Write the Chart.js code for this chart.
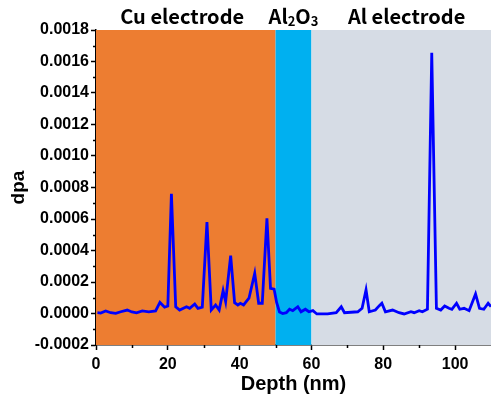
<!DOCTYPE html>
<html>
<head>
<meta charset="utf-8">
<script src="https://cdn.jsdelivr.net/npm/chart.js"></script>
<style>
  html, body { margin: 0; padding: 0; background: #fff; }
  #wrap { width: 491px; height: 396px; position: relative; }
</style>
</head>
<body>
<div id="wrap"><canvas id="dpaChart"></canvas></div>
<script>
// depth (nm) and dpa
const depth = [0.4, 1.3, 2.7, 4.1, 5.5, 6.9, 8.7, 10.0, 11.3, 12.9, 14.7, 16.6, 17.8, 19.1, 20.0,
  21.0, 22.2, 23.3, 25.2, 26.1, 27.5, 28.4, 29.6, 30.9, 32.1, 33.3, 34.3, 35.4, 36.1, 37.5,
  38.6, 39.5, 40.2, 41.1, 42.6, 44.2, 45.3, 46.3, 47.6, 48.6, 49.6, 50.3, 51.1, 52.0, 53.0,
  53.9, 54.8, 56.2, 57.1, 58.3, 59.3, 60.4, 61.5, 64.5, 66.9, 68.3, 69.2, 72.9, 74.1, 75.2,
  76.1, 77.8, 78.9, 79.6, 80.6, 82.6, 84.4, 85.8, 87.7, 88.6, 90.0, 90.9, 92.3, 93.5, 94.8,
  96.0, 97.1, 98.3, 99.1, 100.4, 101.3, 102.5, 103.9, 105.7, 106.8, 108.0, 109.2, 110.0];
const dpa = [0.000005, 0.000003, 0.000016, 0.000005, 0.000001, 0.000011, 0.000022, 0.00001, 0.000004, 0.000016, 0.000011, 0.000016, 0.00007, 0.00004, 0.000048,
  0.00076, 0.000043, 0.000022, 0.000043, 0.000033, 0.00006, 0.000033, 0.00004, 0.00058, 0.000022, 0.000054, 0.000022, 0.000145, 0.000075, 0.000367,
  0.000069, 0.000054, 0.000065, 0.000054, 0.000097, 0.000255, 0.000065, 0.000065, 0.000605, 0.00016, 0.000155, 0.00007, 0.00001, 0.0, 0.000005,
  0.000027, 0.000018, 0.000043, 0.000011, 0.000027, 0.000011, 0.000018, -0.000003, -0.000003, 0.000005, 0.000043, 0.000005, 0.000011, 0.000033, 0.00015,
  0.000011, 0.000022, 0.00005, 0.000065, 0.000011, 0.000022, 0.000005, -0.000003, 0.000011, 0.000005, 0.000018, 0.000011, 0.000027, 0.001656, 0.000033,
  0.000022, 0.000048, 0.000033, 0.000027, 0.000065, 0.000027, 0.000033, 0.000018, 0.000124, 0.000033, 0.000027, 0.000065, 0.000043];

// layer regions along depth
const regionNames = ['Cu electrode', 'Al2O3', 'Al electrode'];
const regionStart = [0, 50, 60];
const regionEnd = [50, 60, 110];
const regionLabelAt = [24, 55, 86.5];
const regionColors = ['#ED7D31', '#00B0F0', '#D6DCE5'];

const xMin = 0, xMax = 110;
const yMin = -0.0002, yMax = 0.0018;

const tickFont = { family: 'Liberation Sans, Arial, sans-serif', size: 16, weight: 'bold' };

const layers = {
  id: 'layers',
  beforeDatasetsDraw(chart) {
    const { ctx, chartArea, scales } = chart;
    ctx.save();
    regionStart.forEach((s, i) => {
      const x0 = scales.x.getPixelForValue(s);
      const x1 = Math.min(scales.x.getPixelForValue(regionEnd[i]), chartArea.right);
      ctx.fillStyle = regionColors[i];
      ctx.fillRect(x0, chartArea.top, x1 - x0, chartArea.bottom - chartArea.top);
    });
    ctx.restore();
  },
  afterDraw(chart) {
    const { ctx, chartArea, scales } = chart;
    ctx.save();
    // minor ticks
    ctx.strokeStyle = '#000';
    ctx.lineWidth = 1.5;
    ctx.beginPath();
    for (let v = yMin + 0.0001; v < yMax; v += 0.0002) {
      const py = Math.round(scales.y.getPixelForValue(v)) + 0.5;
      ctx.moveTo(chartArea.left - 3, py);
      ctx.lineTo(chartArea.left, py);
    }
    for (let v = 10; v < xMax; v += 20) {
      const px = Math.round(scales.x.getPixelForValue(v)) + 0.5;
      ctx.moveTo(px, chartArea.bottom);
      ctx.lineTo(px, chartArea.bottom + 3);
    }
    ctx.stroke();

    // region names above the plot
    const big = 'bold 20px "Noto Sans CJK KR", "Noto Sans", sans-serif';
    const small = 'bold 13px "Noto Sans CJK KR", "Noto Sans", sans-serif';
    ctx.fillStyle = '#000';
    ctx.textBaseline = 'middle';
    const ty = 16;
    regionNames.forEach((name, i) => {
      const cx = scales.x.getPixelForValue(regionLabelAt[i]);
      if (name === 'Al2O3') {
        const parts = [['Al', big, 0], ['2', small, 5], ['O', big, 0], ['3', small, 5]];
        let w = 0;
        parts.forEach(p => { ctx.font = p[1]; w += ctx.measureText(p[0]).width; });
        let x = cx - w / 2;
        ctx.textAlign = 'left';
        parts.forEach(p => {
          ctx.font = p[1];
          ctx.fillText(p[0], x, ty + p[2]);
          x += ctx.measureText(p[0]).width;
        });
      } else {
        ctx.font = big;
        ctx.textAlign = 'center';
        ctx.fillText(name, cx, ty);
      }
    });
    ctx.restore();
  }
};

new Chart(document.getElementById('dpaChart'), {
  type: 'line',
  data: {
    datasets: [{
      label: 'dpa',
      data: depth.map((d, i) => ({ x: d, y: dpa[i] })),
      borderColor: '#0000FF',
      borderWidth: 2.8,
      pointRadius: 0,
      tension: 0,
      fill: false
    }]
  },
  options: {
    responsive: true,
    maintainAspectRatio: false,
    animation: false,
    layout: { padding: { top: 30, left: 0, right: 0, bottom: 0 } },
    plugins: { legend: { display: false }, tooltip: { enabled: false } },
    scales: {
      x: {
        type: 'linear',
        min: xMin,
        max: xMax,
        afterFit(scale) { scale.height = 51; },
        border: { display: true, color: '#000', width: 1.5 },
        grid: { drawOnChartArea: false, drawTicks: true, tickLength: 5, color: '#000', tickWidth: 1.5 },
        ticks: { stepSize: 20, includeBounds: false, color: '#000', font: tickFont, padding: 5, maxRotation: 0 },
        title: {
          display: true, text: 'Depth (nm)', color: '#000',
          font: { family: 'Liberation Sans, Arial, sans-serif', size: 20, weight: 'bold' },
          padding: { top: 0, bottom: 0 }
        }
      },
      y: {
        min: yMin,
        max: yMax,
        afterFit(scale) { scale.width = 96; },
        border: { display: true, color: '#000', width: 1.5 },
        grid: { drawOnChartArea: false, drawTicks: true, tickLength: 5, color: '#000', tickWidth: 1.5 },
        ticks: {
          stepSize: 0.0002, color: '#000', font: tickFont, padding: 2,
          callback: v => Number(v).toFixed(4)
        },
        title: {
          display: true, text: 'dpa', color: '#000',
          font: { family: 'Liberation Sans, Arial, sans-serif', size: 19, weight: 'bold' },
          padding: { top: 7, bottom: 0 }
        }
      }
    }
  },
  plugins: [layers]
});
</script>
</body>
</html>
